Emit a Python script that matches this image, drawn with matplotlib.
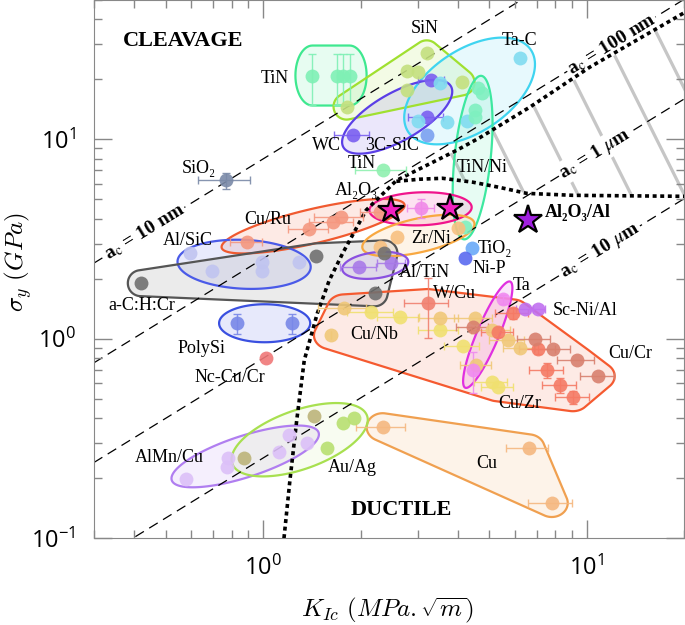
import numpy as np
import matplotlib.pyplot as plt
from matplotlib.patches import Polygon
from matplotlib.ticker import LogLocator, FuncFormatter, NullFormatter

plt.rcParams['font.family'] = ['Liberation Serif', 'DejaVu Serif']

# values: K_Ic in MPa.sqrt(m), sigma_y in GPa
SIO2_K = [0.768]
SIO2_S = [6.22]
SIO2_KERR = [0.14]
SIO2_SERR = [0.6]

TIN_K = [1.42, 1.69, 1.76, 1.85]
TIN_S = [20.9, 20.9, 20.9, 20.9]
TIN_SERR = [6.0, 6.0, 6.0, 6.0]

TIN2_K = [2.34]
TIN2_S = [7.0]
TIN2_KERR = [0.42]

SIN_K = [3.20, 2.79, 3.00, 2.79, 4.10, 1.81]
SIN_S = [27.0, 21.9, 21.7, 17.6, 19.3, 14.6]

WC_K = [1.89, 3.20, 3.31]
WC_S = [10.5, 12.9, 19.8]
WC_KERR = [0.24, 0.4, 0.3]

SIC_K = [3.20]
SIC_S = [10.5]

TAC_K = [3.51, 3.00, 3.71, 4.25, 6.20]
TAC_S = [19.1, 12.4, 12.2, 12.4, 25.5]

TINNI_K = [4.60, 4.76, 4.50, 4.50, 4.19]
TINNI_S = [18.2, 17.0, 14.0, 13.0, 3.62]

AL2O3_K = [2.49, 3.77]
AL2O3_S = [4.41, 4.51]
AL2O3_PK = [3.08]
AL2O3_PS = [4.51]

AL2O3AL_K = [6.57]
AL2O3AL_S = [3.93]

ZRNI_K = [2.29, 2.60, 4.0]
ZRNI_S = [2.88, 3.23, 3.6]

ALTIN_K = [1.98, 2.49]
ALTIN_S = [2.28, 2.39]
ALTIN_KERR = [0.25, 0.25]

TIO2_K = [4.41]
TIO2_S = [2.84]
NIP_K = [4.19]
NIP_S = [2.54]

CURU_K = [0.892, 1.39, 1.64, 1.74, 2.29]
CURU_S = [3.05, 3.54, 3.84, 4.06, 4.31]
CURU_KERR = [0.1, 0.2, 0.25, 0.3, 0.3]

ALSIC_K = [0.594, 0.695, 0.99, 0.99, 1.29]
ALSIC_S = [2.68, 2.18, 2.42, 2.18, 2.42]

ACH_K = [0.419, 1.46, 2.37, 2.21]
ACH_S = [1.90, 2.59, 2.68, 1.69]

POLYSI_K = [0.831, 1.23]
POLYSI_S = [1.196, 1.196]
POLYSI_SERR = [0.14, 0.14]

NCCU_K = [1.02]
NCCU_S = [0.797]

CUNB_YK = [2.16, 2.64, 3.51, 4.13, 5.08, 5.30]
CUNB_YS = [1.36, 1.28, 1.10, 0.917, 0.605, 0.571]
CUNB_YKERR = [0.35, 0.4, 0.5, 0.5, 0.6, 0.6]
CUNB_GK = [1.62, 1.78, 3.51, 4.50, 5.08, 5.69, 6.20, 4.56]
CUNB_GS = [1.04, 1.42, 1.27, 1.27, 1.10, 0.983, 0.896, 0.736]
CUNB_GKERR = [0.0, 0.3, 0.5, 0.6, 0.7, 0.7, 0.7, 0.5]

WCU_K = [3.22]
WCU_S = [1.51]
WCU_KERR = [0.5]
WCU_SERR = [0.5]

CUCR_RK = [5.30, 5.90, 7.05, 7.52, 8.25, 9.05]
CUCR_RS = [1.08, 1.34, 0.886, 0.695, 0.585, 0.509]
CUCR_RKERR = [0.6, 0.7, 0.9, 0.9, 1.0, 1.1]
CUCR_RSERR = [0.06, 0.08, 0.05, 0.06, 0.05, 0.04]
CUCR_BK = [4.44, 6.90, 7.85, 9.31, 10.8]
CUCR_BS = [1.14, 1.0, 0.886, 0.780, 0.649]
CUCR_BKERR = [0.5, 0.8, 1.0, 1.2, 1.3]

TA_K = [5.50, 4.44]
TA_S = [1.58, 0.695]
TA_SERR = [0.08, 0.16]

SCNI_K = [6.43, 7.05]
SCNI_S = [1.41, 1.41]
SCNI_KERR = [0.4, 0.4]

CU_K = [2.34, 6.61, 7.79]
CU_S = [0.360, 0.282, 0.150]
CU_KERR = [0.4, 1.0, 1.2]

ALMN_K = [0.578, 0.779, 0.776, 1.12, 1.20, 1.37]
ALMN_S = [0.198, 0.252, 0.227, 0.270, 0.328, 0.299]

AUAG_K = [1.77, 1.91, 1.58]
AUAG_S = [0.38, 0.40, 0.282]
OLIVE_K = [0.873, 1.44]
OLIVE_S = [0.252, 0.41]

# ductile / cleavage boundaries
CURVE1_K = [1.16, 1.21, 1.27, 1.34, 1.47, 1.60, 1.76, 2.08, 2.58, 3.20, 3.96, 4.67, 6.66, 10.2, 20.1]
CURVE1_S = [0.1, 0.195, 0.39, 0.78, 1.34, 1.96, 2.68, 4.41, 6.22, 7.41, 8.81, 10.2, 14.5, 23.0, 43.4]
CURVE2_K = [2.58, 3.04, 3.58, 4.44, 5.38, 6.52, 9.05, 20.0]
CURVE2_S = [6.16, 6.31, 6.38, 6.10, 5.74, 5.36, 5.24, 5.18]

# critical flaw sizes (m)
A_C = [10e-9, 100e-9, 1e-6, 10e-6]
A_C_TEXT = [r'a$_{\rm c}$ = 10 nm', r'a$_{\rm c}$ = 100 nm', r'a$_{\rm c}$ = 1 $\mu$m', r'a$_{\rm c}$ = 10 $\mu$m']
A_C_LABEL_K = [0.43, 11.9, 10.6, 11.0]

LABEL_TEXT = ['TiN', 'SiN', 'Ta-C', 'WC', '3C-SiC', 'TiN', 'TiN/Ni', 'SiO₂', 'Al₂O₃', 'Cu/Ru',
              'Zr/Ni', 'Al/SiC', 'TiO₂', 'Ni-P', 'Al/TiN', 'Ta', 'W/Cu', 'a-C:H:Cr', 'Sc-Ni/Al',
              'Cu/Nb', 'PolySi', 'Cu/Cr', 'Nc-Cu/Cr', 'Cu/Zr', 'AlMn/Cu', 'Au/Ag', 'Cu']
LABEL_K = [1.09, 3.15, 6.2, 1.57, 2.51, 2.01, 4.76, 0.634, 1.94, 1.03,
           3.31, 0.586, 5.19, 5.01, 3.15, 6.29, 3.90, 0.422, 9.86,
           2.21, 0.643, 13.6, 0.79, 6.2, 0.515, 1.886, 4.90]
LABEL_S = [20.2, 36.0, 31.3, 9.33, 9.33, 7.58, 7.24, 7.16, 5.55, 3.97,
           3.19, 3.12, 2.84, 2.26, 2.15, 1.85, 1.69, 1.47, 1.39,
           1.05, 0.896, 0.846, 0.641, 0.475, 0.255, 0.227, 0.238]


fig = plt.figure(figsize=(6.85, 6.25), dpi=100)
ax = fig.add_axes([0.137, 0.139, 0.862, 0.861])
ax.set_xscale('log')
ax.set_yscale('log')
ax.set_xlim(0.3, 20)
ax.set_ylim(0.1, 50)


def convex_hull(p):
    p = sorted(map(tuple, p))

    def cross(o, a, b):
        return (a[0] - o[0]) * (b[1] - o[1]) - (a[1] - o[1]) * (b[0] - o[0])

    lower, upper = [], []
    for q in p:
        while len(lower) >= 2 and cross(lower[-2], lower[-1], q) <= 0:
            lower.pop()
        lower.append(q)
    for q in reversed(p):
        while len(upper) >= 2 and cross(upper[-2], upper[-1], q) <= 0:
            upper.pop()
        upper.append(q)
    return np.array(lower[:-1] + upper[:-1])


def ellipse_outline(pts, pa, pb):
    # ellipse along the main direction of the points, padded
    if len(pts) > 1:
        d = pts - pts.mean(0)
        w, v = np.linalg.eigh(d.T @ d)
        u = v[:, -1]
    else:
        u = np.array([1.0, 0.0])
    n = np.array([-u[1], u[0]])
    pu, pv = pts @ u, pts @ n
    cu, cv = (pu.max() + pu.min()) / 2, (pv.max() + pv.min()) / 2
    a = (pu.max() - pu.min()) / 2 + pa
    b = (pv.max() - pv.min()) / 2 + pb
    r = np.sqrt(((pu - cu) / a) ** 2 + ((pv - cv) / b) ** 2).max()
    if r > 1:
        a, b = a * r, b * r
    t = np.linspace(0, 2 * np.pi, 120)
    return np.outer(cu + a * np.cos(t), u) + np.outer(cv + b * np.sin(t), n)


def blob(k, s, color, rx, ry, face=None, alpha=0.12, ellipse=False):
    pts = ax.transData.transform(np.column_stack([k, s]))
    f = fig.dpi / 100
    if ellipse:
        outline = ellipse_outline(pts, rx * f, ry * f)
    else:
        t = np.linspace(0, 2 * np.pi, 60, endpoint=False)
        ring = np.column_stack([np.cos(t) * rx * f, np.sin(t) * ry * f])
        cloud = (pts[:, None, :] + ring[None, :, :]).reshape(-1, 2)
        outline = convex_hull(cloud)
    outline = ax.transData.inverted().transform(outline)
    fc = face if face is not None else color
    ax.add_patch(Polygon(outline, closed=True, facecolor=fc, alpha=alpha, edgecolor='none', zorder=1))
    ax.add_patch(Polygon(outline, closed=True, facecolor='none', edgecolor=color, lw=1.6, zorder=1.1))


def dots(k, s, color, kerr=None, serr=None, ms=10, z=3):
    ax.errorbar(k, s, xerr=kerr, yerr=serr, fmt='o', ms=ms, color=color, ecolor=color,
                elinewidth=1, capsize=3, mec='none', alpha=0.9, zorder=z)


# hatched zone between the two boundaries
reg_k = CURVE1_K[8:] + [25.0] + CURVE2_K[::-1]
reg_s = CURVE1_S[8:] + [5.18] + CURVE2_S[::-1]
region = Polygon(np.column_stack([reg_k, reg_s]), closed=True, transform=ax.transData)
for i in range(6):
    x0 = 0.475 + 0.09 * i
    ln, = ax.plot([x0, x0 + 0.456], [1, 0], transform=ax.transAxes, color='#c6c6c6',
                  lw=2.3, solid_capstyle='butt', zorder=0.8)
    ln.set_clip_path(region)

# critical flaw size lines
kk = np.array([0.3, 20])
for a, txt, kl in zip(A_C, A_C_TEXT, A_C_LABEL_K):
    c = np.sqrt(2 / (np.pi * a)) * 1e-3
    ax.plot(kk, c * kk, color='k', lw=0.9, ls=(0, (8, 5)), zorder=1.2)
    p1 = ax.transData.transform((1, c))
    p2 = ax.transData.transform((10, 10 * c))
    ang = np.degrees(np.arctan2(p2[1] - p1[1], p2[0] - p1[0]))
    ax.text(kl, c * kl, txt, rotation=ang, rotation_mode='anchor', ha='center', va='center',
            fontsize=14, fontweight='bold', math_fontfamily='stix', zorder=2,
            bbox=dict(facecolor='white', edgecolor='none', pad=1.0))

# blobs
blob(TIN_K, TIN_S, '#3ee88f', 17, 30)
blob(SIN_K, SIN_S, '#a0e030', 13, 13)
blob(TAC_K, TAC_S, '#3fd4f0', 14, 18, ellipse=True)
blob(WC_K, WC_S, '#5b3fe6', 14, 9, ellipse=True)
blob(TINNI_K, TINNI_S, '#3ee8a0', 12, 15, ellipse=True)
blob(CURU_K, CURU_S, '#f05a30', 26, 15, ellipse=True)
blob(ALSIC_K, ALSIC_S, '#4a5ae8', 12, 16, ellipse=True)
blob(ACH_K, ACH_S, '#555555', 13, 13, face='#bdbdbd', alpha=0.3)
blob(AL2O3_K + AL2O3_PK, AL2O3_S + AL2O3_PS, '#f0148c', 22, 16, ellipse=True)
blob(ZRNI_K, ZRNI_S, '#f8a840', 17, 14, ellipse=True)
blob(ALTIN_K, ALTIN_S, '#8a50e0', 17, 13, ellipse=True)
blob(POLYSI_K, POLYSI_S, '#3a50e0', 18, 19, ellipse=True)
blob(CUNB_YK + CUNB_GK + WCU_K + CUCR_RK + CUCR_BK,
     CUNB_YS + CUNB_GS + WCU_S + CUCR_RS + CUCR_BS, '#f55a30', 17, 14)
blob(TA_K, TA_S, '#e030e0', 19, 11, ellipse=True)
blob(CU_K, CU_S, '#f0a050', 16, 14)
blob(ALMN_K, ALMN_S, '#b07ef0', 14, 14, ellipse=True)
blob(AUAG_K + OLIVE_K, AUAG_S + OLIVE_S, '#a8e050', 13, 12, alpha=0.08, ellipse=True)

# boundaries
ax.plot(CURVE1_K, CURVE1_S, color='k', lw=2.6, ls=(0, (1.1, 1.0)), zorder=2.6)
ax.plot(CURVE2_K, CURVE2_S, color='k', lw=2.6, ls=(0, (1.1, 1.0)), zorder=2.6)

# data points
dots(SIO2_K, SIO2_S, '#7a8aa8', SIO2_KERR, SIO2_SERR)
dots(TIN_K, TIN_S, '#7ff0b5', serr=TIN_SERR)
dots(TIN2_K, TIN2_S, '#8ff0b0', TIN2_KERR)
dots(SIN_K, SIN_S, '#c4e07e')
dots(WC_K, WC_S, '#7a5ff0', WC_KERR)
dots(TAC_K, TAC_S, '#80dcf0')
dots(SIC_K, SIC_S, '#7aa0f0')
dots(TINNI_K, TINNI_S, '#7ff0c0')
dots(ZRNI_K, ZRNI_S, '#f8c080')
dots(AL2O3_PK, AL2O3_PS, '#f08ae8', [0.3], [0.5])
dots(ALTIN_K, ALTIN_S, '#a87ae8', ALTIN_KERR)
dots(TIO2_K, TIO2_S, '#6aaaf8')
dots(NIP_K, NIP_S, '#5a6af0')
dots(CURU_K, CURU_S, '#f59880', CURU_KERR)
dots(ALSIC_K, ALSIC_S, '#c0c4f0')
dots(ACH_K, ACH_S, '#707070')
dots(POLYSI_K, POLYSI_S, '#7888e8', serr=POLYSI_SERR)
dots(NCCU_K, NCCU_S, '#f07878')
dots(CUNB_YK, CUNB_YS, '#f0e070', CUNB_YKERR)
dots(CUNB_GK, CUNB_GS, '#f0c878', CUNB_GKERR)
dots(WCU_K, WCU_S, '#f08070', WCU_KERR, WCU_SERR)
dots(CUCR_RK, CUCR_RS, '#f57a65', CUCR_RKERR, CUCR_RSERR)
dots(CUCR_BK, CUCR_BS, '#d8806e', CUCR_BKERR)
dots(TA_K, TA_S, '#f08af0', serr=TA_SERR)
dots(SCNI_K, SCNI_S, '#c070f0', SCNI_KERR)
dots(CU_K, CU_S, '#f5b880', CU_KERR)
dots(ALMN_K, ALMN_S, '#dcc0f8')
dots(AUAG_K, AUAG_S, '#b8e070')
dots(OLIVE_K, OLIVE_S, '#bcb47a')

ax.plot(AL2O3_K, AL2O3_S, '*', ms=20, color='#f020c0', mec='k', mew=1.6, zorder=4)
ax.plot(AL2O3AL_K, AL2O3AL_S, '*', ms=21, color='#a020e0', mec='k', mew=1.6, zorder=4)

# labels
for txt, k, s in zip(LABEL_TEXT, LABEL_K, LABEL_S):
    ax.text(k, s, txt, ha='center', va='center', fontsize=13, zorder=5)
ax.text(9.38, 4.31, 'Al₂O₃/Al', ha='center', va='center', fontsize=13, fontweight='bold', zorder=5)
ax.text(0.151, 0.924, 'CLEAVAGE', transform=ax.transAxes, ha='center', va='center',
        fontsize=16, fontweight='bold')
ax.text(0.520, 0.052, 'DUCTILE', transform=ax.transAxes, ha='center', va='center',
        fontsize=16, fontweight='bold')

# axes styling
for sp in ax.spines.values():
    sp.set_color('#888888')
ax.xaxis.set_major_locator(LogLocator(base=10))
ax.yaxis.set_major_locator(LogLocator(base=10))
ax.xaxis.set_minor_locator(LogLocator(base=10, subs=np.arange(2, 10)))
ax.yaxis.set_minor_locator(LogLocator(base=10, subs=np.arange(2, 10)))
fmt = FuncFormatter(lambda v, p: r'$\mathregular{10^{%d}}$' % int(round(np.log10(v))))
ax.xaxis.set_major_formatter(fmt)
ax.yaxis.set_major_formatter(fmt)
ax.xaxis.set_minor_formatter(NullFormatter())
ax.yaxis.set_minor_formatter(NullFormatter())
ax.tick_params(which='both', direction='in', top=True, right=True, color='#888888')
ax.tick_params(which='major', length=13, width=1, pad=13, labelsize=17)
ax.tick_params(which='minor', length=6, width=1)
for lab in ax.get_xticklabels() + ax.get_yticklabels():
    lab.set_fontfamily('Open Sans')

ax.set_xlabel(r'$K_{Ic}\ (MPa.\sqrt{m})$', fontsize=18, math_fontfamily='cm', va='center')
ax.set_ylabel(r'$\sigma_y\ (GPa)$', fontsize=18, math_fontfamily='cm', va='center')
ax.xaxis.set_label_coords(0.498, -0.134)
ax.yaxis.set_label_coords(-0.128, 0.513)

fig.savefig('out.png', dpi=100)
